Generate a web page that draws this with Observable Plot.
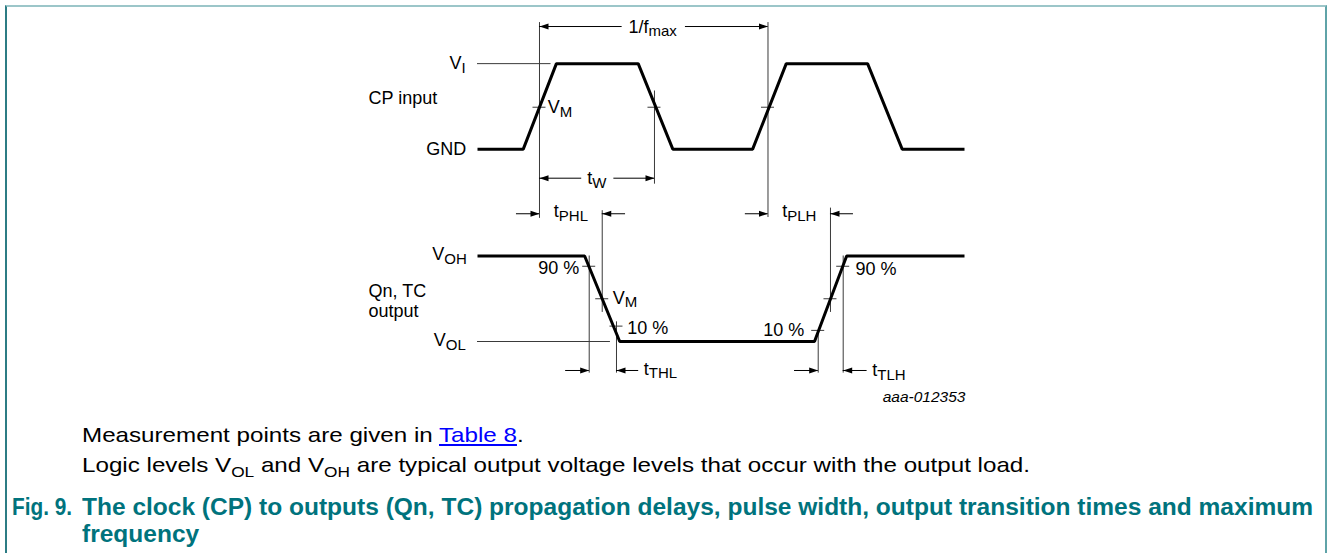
<!DOCTYPE html>
<html><head><meta charset="utf-8">
<script src="https://cdn.jsdelivr.net/npm/d3@7"></script>
<script src="https://cdn.jsdelivr.net/npm/@observablehq/plot@0.6"></script>
<style>
html,body{margin:0;padding:0;background:#fff;}
#wrap{position:relative;width:1328px;height:553px;overflow:hidden;font-family:"Liberation Sans",Arial,sans-serif;}
#frame{position:absolute;left:5px;top:5px;width:1322px;height:560px;border-top:2px solid #9cc6c9;border-left:2px solid #2c7c84;border-right:2px solid #5fa3a8;box-sizing:border-box;pointer-events:none;}
#chart{position:absolute;left:0;top:0;}
.cap{position:absolute;left:82px;font-size:21px;color:#000;line-height:24px;white-space:nowrap;transform-origin:0 50%;}
.cap sub{font-size:15px;vertical-align:-5px;line-height:0;}
.cap a{color:#0000ff;text-decoration:underline;}
.fig{position:absolute;font-weight:bold;color:#00737d;font-size:23px;line-height:27px;white-space:nowrap;transform-origin:0 50%;}
</style></head>
<body><div id="wrap"><div id="chart"></div><div id="frame"></div>
<div class="cap" id="c1" style="top:423px">Measurement points are given in <a>Table 8</a>.</div>
<div class="cap" id="c2" style="top:453px">Logic levels V<sub>OL</sub> and V<sub>OH</sub> are typical output voltage levels that occur with the output load.</div>
<div class="fig" id="f0" style="left:12px;top:494px">Fig. 9.</div>
<div class="fig" id="f1" style="left:82px;top:494px">The clock (CP) to outputs (Qn, TC) propagation delays, pulse width, output transition times and maximum</div>
<div class="fig" id="f2" style="left:82px;top:521px">frequency</div>
</div>
<script>
// ---- data (time units, level units) ----
const CP_T = [0, 9.4, 16.2, 33.0, 40.1, 56.5, 63.4, 80.1, 87.2, 100];
const CP_V = [2.25, 2.25, 3.25, 3.25, 2.25, 2.25, 3.25, 3.25, 2.25, 2.25];
const OUT_T = [0, 22.0, 29.2, 69.2, 75.8, 100];
const OUT_V = [1, 1, 0, 0, 1, 1];

const REF_T1 = [0, 0];
const REF_T2 = [15.1, 27.3];
const REF_V = [3.25, 0];

const MARK_T = [12.73, 36.34, 59.65, 22.94, 25.61, 28.54, 69.96, 72.48, 75.09];
const MARK_V1 = [3.73, 2.93, 3.73, 1.0, 1.53, 0.23, 0.13, 1.56, 1.0];
const MARK_V2 = [1.44, 1.84, 1.45, -0.37, 0.34, -0.37, -0.37, 0.34, -0.37];

const TICK_T = [12.73, 36.34, 59.65, 22.94, 25.61, 28.54, 69.96, 72.48, 75.09];
const TICK_V = [2.74, 2.74, 2.74, 0.88, 0.5, 0.18, 0.13, 0.5, 0.88];

const ARROW_FROM = [29.7, 42.7, 21.4, 28.0, 8.0, 30.4, 55.0, 77.2, 18.1, 33.1, 65.1, 80.0];
const ARROW_TO   = [12.73, 59.65, 12.73, 36.34, 12.73, 25.61, 59.65, 72.48, 22.94, 28.54, 69.96, 75.09];
const ARROW_V    = [3.684, 3.684, 1.91, 1.91, 1.494, 1.494, 1.494, 1.494, -0.339, -0.339, -0.339, -0.339];

const LABEL_BASE = ["V", "CP input", "GND", "V", "1/f", "t", "t", "t", "V", "90 %", "Qn, TC", "output", "V", "10 %", "V", "t", "90 %", "10 %", "t"];
const LABEL_SUB  = ["I", "", "", "M", "max", "W", "PHL", "PLH", "OH", "", "", "", "M", "", "OL", "THL", "", "", "TLH"];
const LABEL_T = [-5.75, -22.38, -10.53, 14.44, 31.01, 22.53, 15.67, 62.57, -9.30, 12.46, -22.38, -22.38, 27.78, 30.74, -8.97, 34.15, 77.62, 58.67, 81.05];
const LABEL_V = [3.25, 2.84, 2.25, 2.74, 3.68, 1.91, 1.52, 1.52, 1.02, 0.86, 0.585, 0.351, 0.51, 0.15, 0.01, -0.32, 0.85, 0.13, -0.34];

const CREDIT = ["aaa-012353"];
const CREDIT_T = [100.2];
const CREDIT_V = [-0.651];

// ---- scales ----
const X_DOMAIN = [0, 100], X_RANGE = [477, 964];
const Y_DOMAIN = [0, 1], Y_RANGE = [341, 255.5];
const pxPerT = (X_RANGE[1] - X_RANGE[0]) / (X_DOMAIN[1] - X_DOMAIN[0]);
const pxPerV = (Y_RANGE[0] - Y_RANGE[1]) / (Y_DOMAIN[1] - Y_DOMAIN[0]);
const FONT = '"Liberation Sans", Arial, sans-serif';
const BASE_SIZE = 18, SUB_SIZE = 15;

const ctx = document.createElement("canvas").getContext("2d");
function textW(s, size) { ctx.font = `${size}px ${FONT}`; return ctx.measureText(s).width; }

const cp = CP_T.map((t, i) => ({t, v: CP_V[i]}));
const out = OUT_T.map((t, i) => ({t, v: OUT_V[i]}));
const refs = REF_V.map((v, i) => ({t1: REF_T1[i], t2: REF_T2[i], v}));
const marks = MARK_T.map((t, i) => ({t, v1: MARK_V1[i], v2: MARK_V2[i]}));
const ticks = TICK_T.map((t, i) => ({t, v: TICK_V[i]}));
const arrows = ARROW_TO.map((to, i) => ({from: ARROW_FROM[i], to, v: ARROW_V[i]}));
const labels = LABEL_BASE.map((b, i) => ({b, s: LABEL_SUB[i], t: LABEL_T[i], v: LABEL_V[i]}));
const subs = labels.filter(d => d.s).map(d => ({s: d.s, t: d.t + textW(d.b, BASE_SIZE) / pxPerT, v: d.v - 4.5 / pxPerV}));
const credit = CREDIT.map((c, i) => ({c, t: CREDIT_T[i], v: CREDIT_V[i]}));

const tickHalf = 6.5 / pxPerT;
const head = {draw(c) { c.moveTo(0, 0); c.lineTo(-9, -3); c.lineTo(-9, 3); c.closePath(); }};
const thin = "#3a3a3a";

const chart = Plot.plot({
  width: 1328, height: 410, margin: 0,
  x: {domain: X_DOMAIN, range: X_RANGE, axis: null},
  y: {domain: Y_DOMAIN, range: Y_RANGE, axis: null},
  style: {fontFamily: FONT, fontSize: "18px", background: "transparent", overflow: "visible", color: "#000"},
  marks: [
    Plot.ruleY(refs, {x1: "t1", x2: "t2", y: "v", stroke: thin, strokeWidth: 1}),
    Plot.ruleX(marks, {x: "t", y1: "v1", y2: "v2", stroke: thin, strokeWidth: 1}),
    Plot.ruleY(ticks, {x1: d => d.t - tickHalf, x2: d => d.t + tickHalf, y: "v", stroke: thin, strokeWidth: 1}),
    Plot.line(cp, {x: "t", y: "v", stroke: "#000", strokeWidth: 3, strokeLinejoin: "miter", strokeLinecap: "butt"}),
    Plot.line(out, {x: "t", y: "v", stroke: "#000", strokeWidth: 3, strokeLinejoin: "miter", strokeLinecap: "butt"}),
    Plot.ruleY(arrows, {x1: "from", x2: "to", y: "v", stroke: "#000", strokeWidth: 1}),
    Plot.dot(arrows, {x: "to", y: "v", symbol: head, rotate: d => d.to > d.from ? 0 : 180, fill: "#000", stroke: "none"}),
    Plot.text(labels, {x: "t", y: "v", text: "b", textAnchor: "start", fontSize: BASE_SIZE, fill: "#000"}),
    Plot.text(subs, {x: "t", y: "v", text: "s", textAnchor: "start", fontSize: SUB_SIZE, fill: "#000"}),
    Plot.text(credit, {x: "t", y: "v", text: "c", textAnchor: "end", fontSize: 15.5, fontStyle: "italic", fill: "#000"})
  ]
});
document.getElementById("chart").appendChild(chart);

// fit caption widths horizontally to the reference extents
function fit(id, right, alsoIds) {
  const el = document.getElementById(id);
  const r = el.getBoundingClientRect();
  const s = (right - r.left) / r.width;
  [id, ...(alsoIds || [])].forEach(k => { document.getElementById(k).style.transform = `scaleX(${s})`; });
}
fit("c2", 1030, ["c1"]);
fit("f1", 1313, ["f2"]);
fit("f0", 72);
</script>
</body></html>
